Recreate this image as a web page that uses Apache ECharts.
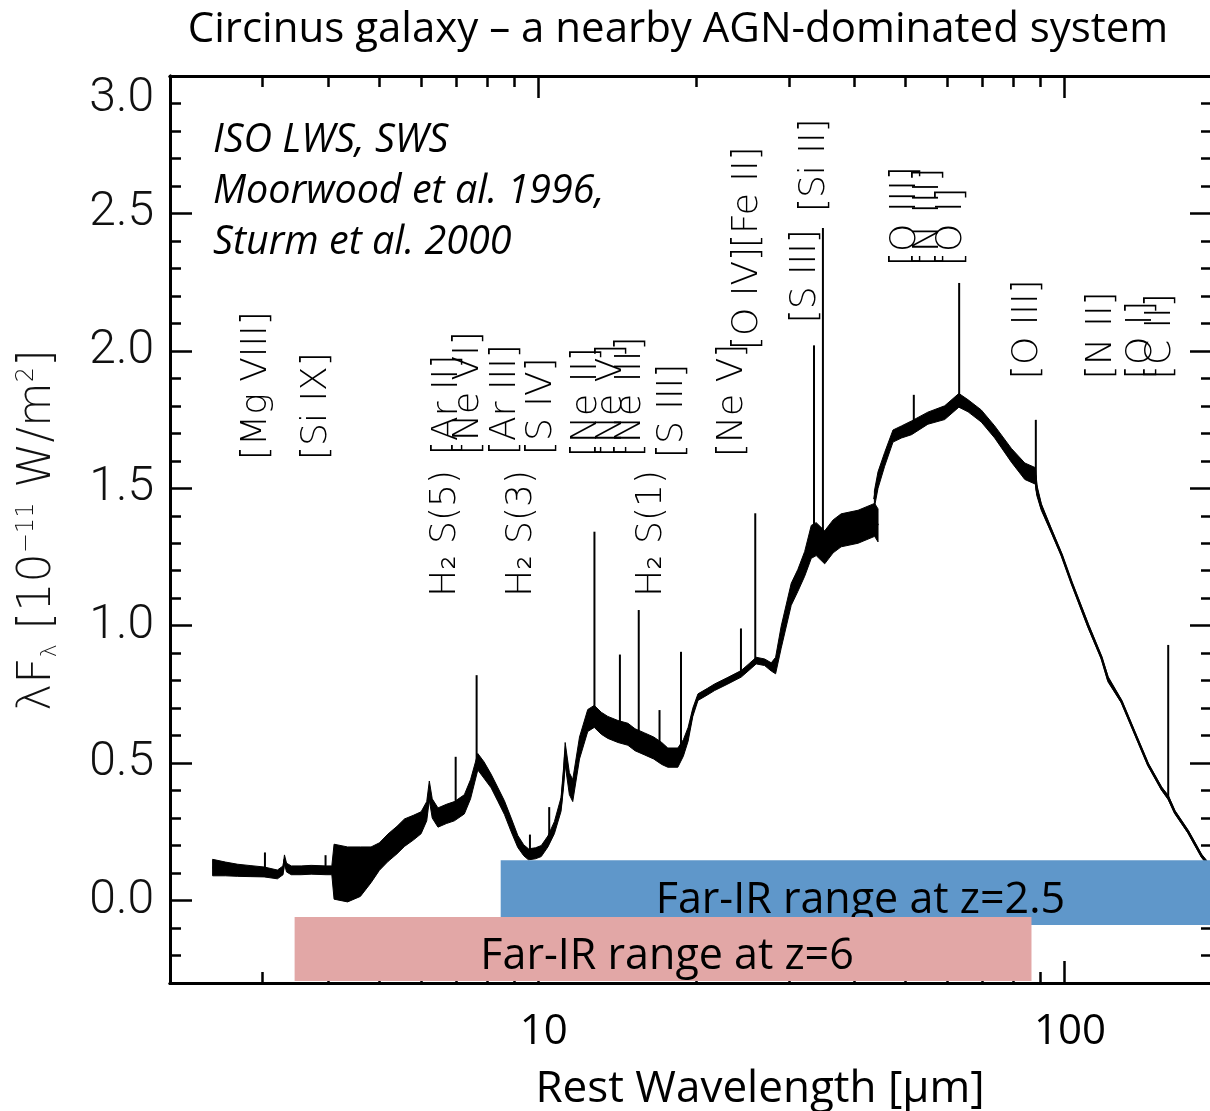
<!DOCTYPE html>
<html>
<head>
<meta charset="utf-8">
<script src="https://cdn.jsdelivr.net/npm/echarts@6/dist/echarts.min.js"></script>
<style>
  html, body { margin: 0; padding: 0; background: #fff; }
  #chart { width: 1210px; height: 1111px; }
</style>
</head>
<body>
<div id="chart"></div>
<script>
// ISO SWS spectrum (continuum trace, micron / 1e-11 W m^-2) and the width of its noise band
const swsWave = [2.41, 2.55, 2.69, 2.85, 3.02, 3.2, 3.28, 3.3, 3.33, 3.4,
  3.55, 3.71, 3.96, 4.06, 4.1, 4.35, 4.6, 4.82, 5.0, 5.19,
  5.4, 5.58, 5.8, 6.0, 6.15, 6.22, 6.3, 6.46, 6.7, 6.94,
  7.25, 7.45, 7.69, 7.9, 8.15, 8.4, 8.64, 8.9, 9.16, 9.4,
  9.6, 9.9, 10.15, 10.45, 10.75, 11.07, 11.2, 11.27, 11.48, 11.65,
  12.0, 12.44, 12.8, 13.2, 13.58, 14.2, 14.83, 15.3, 15.95, 16.6,
  17.2, 17.66, 18.45, 18.9, 19.3, 19.7, 20.15, 21.0, 21.67, 22.97,
  24.35, 25.2, 26.0, 26.97, 27.77, 28.3, 29.0, 30.3, 31.2, 32.14,
  33.08, 33.8, 35.08, 36.4, 37.7, 40.6, 43.65, 44.3];
const swsFlux = [0.12, 0.115, 0.11, 0.107, 0.104, 0.095, 0.11, 0.15, 0.12, 0.11,
  0.11, 0.112, 0.11, 0.11, 0.105, 0.095, 0.105, 0.13, 0.16, 0.192,
  0.22, 0.247, 0.265, 0.283, 0.325, 0.40, 0.335, 0.302, 0.315, 0.325,
  0.35, 0.405, 0.505, 0.475, 0.435, 0.385, 0.338, 0.275, 0.215, 0.183,
  0.168, 0.172, 0.18, 0.215, 0.265, 0.35, 0.455, 0.535, 0.425, 0.40,
  0.555, 0.655, 0.67, 0.645, 0.63, 0.615, 0.605, 0.585, 0.57, 0.555,
  0.535, 0.52, 0.52, 0.555, 0.605, 0.685, 0.74, 0.76, 0.776, 0.80,
  0.825, 0.85, 0.873, 0.867, 0.85, 0.855, 0.958, 1.114, 1.165, 1.225,
  1.305, 1.315, 1.285, 1.325, 1.347, 1.36, 1.385, 1.365];
const swsSpread = [0.03, 0.025, 0.022, 0.02, 0.018, 0.016, 0.016, 0.016, 0.016, 0.016,
  0.016, 0.016, 0.016, 0.016, 0.10, 0.10, 0.09, 0.065, 0.05, 0.05,
  0.05, 0.05, 0.045, 0.04, 0.035, 0.035, 0.035, 0.035, 0.035, 0.035,
  0.035, 0.035, 0.03, 0.03, 0.025, 0.025, 0.025, 0.025, 0.022, 0.02,
  0.02, 0.02, 0.02, 0.02, 0.022, 0.025, 0.035, 0.04, 0.04, 0.04,
  0.04, 0.04, 0.04, 0.04, 0.04, 0.04, 0.04, 0.04, 0.04, 0.04,
  0.04, 0.035, 0.035, 0.03, 0.025, 0.015, 0.012, 0.012, 0.012, 0.012,
  0.012, 0.012, 0.012, 0.012, 0.015, 0.03, 0.04, 0.04, 0.04, 0.045,
  0.06, 0.06, 0.06, 0.06, 0.06, 0.06, 0.06, 0.06];

// ISO LWS spectrum
const lwsWave = [43.6, 44.3, 45.6, 47.3, 49.1, 51.3, 55.1, 59.3, 63.1, 65.7,
  69.6, 73.8, 79.4, 84.2, 88.2, 88.7, 90.5, 94.6, 98.9, 103.3,
  111.1, 117.8, 121.2, 128.5, 136.2, 144.4, 153.1, 157.7, 162.3, 172.1,
  182.4, 186.5];
const lwsFlux = [1.46, 1.53, 1.605, 1.69, 1.705, 1.72, 1.755, 1.775, 1.82, 1.80,
  1.763, 1.705, 1.62, 1.562, 1.545, 1.495, 1.432, 1.345, 1.258, 1.157,
  1.0, 0.883, 0.805, 0.725, 0.61, 0.495, 0.408, 0.375, 0.322, 0.25,
  0.163, 0.14];
const lwsSpread = [0.03, 0.03, 0.025, 0.022, 0.022, 0.025, 0.022, 0.025, 0.025, 0.022,
  0.022, 0.022, 0.025, 0.03, 0.03, 0.02, 0.012, 0.008, 0.006, 0.006,
  0.008, 0.006, 0.01, 0.006, 0.006, 0.006, 0.006, 0.008, 0.006, 0.006,
  0.006, 0.006];

// Emission lines: rest wavelength, continuum level below the line, line peak
const lineWave = [3.03, 3.95, 6.98, 7.65, 9.66, 10.51, 12.81, 14.32, 15.55, 17.03,
  18.71, 24.32, 25.89, 33.48, 34.81, 51.81, 63.18, 88.36, 157.7];
const lineBase = [0.10, 0.11, 0.325, 0.505, 0.17, 0.225, 0.67, 0.615, 0.585, 0.535,
  0.525, 0.825, 0.87, 1.305, 1.285, 1.725, 1.82, 1.525, 0.375];
const linePeak = [0.175, 0.165, 0.523, 0.82, 0.24, 0.34, 1.342, 0.895, 1.057, 0.693,
  0.905, 0.99, 1.409, 2.02, 2.447, 1.84, 2.247, 1.749, 0.93];

// Line identifications: text, wavelength, flux level where the label starts
const labelText = ['[Mg VIII]', '[Si IX]', 'H\u2082 S(5)', '[Ar II]', '[Ne VI]', 'H\u2082 S(3)', '[Ar III]', '[S IV]',
  '[Ne II]', '[Ne V]', '[Ne III]', 'H\u2082 S(1)', '[S III]', '[Ne V]', '[O IV]', '[Fe II]',
  '[S III]', '[Si II]', '[O III]', '[N III]', '[O I]', '[O III]', '[N II]', '[O I]', '[C II]'];
const labelWave = [3.03, 3.94, 6.91, 6.985, 7.65, 9.66, 8.99, 10.51,
  12.81, 14.32, 15.55, 17.03, 18.71, 24.32, 25.89, 25.99,
  33.48, 34.81, 51.81, 57.32, 63.18, 88.36, 121.9, 145.5, 157.7];
const labelLevel = [1.603, 1.603, 1.105, 1.621, 1.621, 1.105, 1.621, 1.621,
  1.614, 1.614, 1.614, 1.105, 1.61, 1.614, 2.003, 2.374,
  2.10, 2.505, 2.309, 2.309, 2.309, 1.897, 1.897, 1.897, 1.897];

// Rest-frame wavelength windows covered by far-IR observations at two redshifts
const bandText = ['Far-IR range at z=2.5', 'Far-IR range at z=6'];
const bandStart = [8.5, 3.45];
const bandEnd = [191, 86.7];
const bandTop = [0.147, -0.06];
const bandBottom = [-0.089, -0.293];

// Axis ticks
const xMajor = [10, 100];
const xMinor = [2, 3, 4, 5, 6, 7, 8, 9, 20, 30, 40, 50, 60, 70, 80, 90];
const yMajor = [0, 0.5, 1.0, 1.5, 2.0, 2.5, 3.0];
const yMinor = [-0.3, -0.2, -0.1, 0.1, 0.2, 0.3, 0.4, 0.6, 0.7, 0.8, 0.9, 1.1, 1.2, 1.3, 1.4,
  1.6, 1.7, 1.8, 1.9, 2.1, 2.2, 2.3, 2.4, 2.6, 2.7, 2.8, 2.9];

const X_MIN = 2, X_MAX = 191, Y_MIN = -0.3, Y_MAX = 3.0;
const AX = { color: '#000', width: 3 };
const TK = { color: '#000', width: 2.5 };

function xAxisDef(position, values, len, withLabels) {
  return {
    type: 'log', logBase: 10, min: X_MIN, max: X_MAX, position: position,
    axisLine: { show: withLabels !== null, onZero: false, lineStyle: AX },
    axisTick: { show: true, inside: true, length: len, customValues: values, lineStyle: TK },
    axisLabel: withLabels ? {
      show: true, customValues: xMajor, margin: 28, padding: [0, 0, 0, 12],
      fontFamily: 'Open Sans', fontSize: 42, color: '#000',
      formatter: v => String(Math.round(v))
    } : { show: false },
    splitLine: { show: false }, minorTick: { show: false }
  };
}
function yAxisDef(position, values, len, withLabels) {
  return {
    type: 'value', min: Y_MIN, max: Y_MAX, position: position,
    axisLine: { show: withLabels !== null, onZero: false, lineStyle: AX },
    axisTick: { show: true, inside: true, length: len, customValues: values, lineStyle: TK },
    axisLabel: withLabels ? {
      show: true, customValues: yMajor, margin: 16,
      fontFamily: 'Roboto', fontWeight: 300, fontSize: 48, color: '#111',
      formatter: v => Math.abs(v - 3) < 1e-6 ? '{t|3.0}' : v.toFixed(1),
      rich: { t: { fontFamily: 'Roboto', fontWeight: 300, fontSize: 48, color: '#111', padding: [46, 0, 0, 0] } }
    } : { show: false },
    splitLine: { show: false }
  };
}

function envelope(wave, flux, spread) {
  return function (params, api) {
    const pts = [];
    for (let i = 0; i < wave.length; i++) pts.push(api.coord([wave[i], flux[i] + spread[i]]));
    for (let i = wave.length - 1; i >= 0; i--) pts.push(api.coord([wave[i], flux[i] - spread[i]]));
    return { type: 'polygon', shape: { points: pts }, style: { fill: '#000', stroke: '#000', lineWidth: 1 } };
  };
}

const chart = echarts.init(document.getElementById('chart'), null, { renderer: 'canvas' });
chart.setOption({
  animation: false,
  backgroundColor: '#fff',
  grid: { left: 170, top: 76, right: -2, bottom: 128, containLabel: false, outerBoundsMode: 'none' },
  xAxis: [
    Object.assign(xAxisDef('bottom', xMajor, 22, true), {
      name: 'Rest Wavelength [\u03bcm]', nameLocation: 'middle', nameGap: 84,
      nameTextStyle: { fontFamily: 'Open Sans', fontSize: 44, color: '#000', padding: [0, 0, 0, 138] }
    }),
    xAxisDef('bottom', xMinor, 11, false),
    xAxisDef('top', xMajor, 22, false),
    xAxisDef('top', xMinor, 11, false)
  ],
  yAxis: [
    yAxisDef('left', yMajor, 22, true),
    yAxisDef('left', yMinor, 11, false),
    yAxisDef('right', yMajor, 22, false),
    yAxisDef('right', yMinor, 11, false)
  ],
  graphic: [
    { type: 'text', x: 678, y: 30, style: { text: 'Circinus galaxy \u2013 a nearby AGN-dominated system', fontFamily: 'Open Sans', fontSize: 42, fill: '#000', align: 'center', verticalAlign: 'middle' } },
    { type: 'text', x: 213, y: 141, style: { text: 'ISO LWS, SWS', fontFamily: 'Open Sans', fontStyle: 'italic', fontSize: 39.5, fill: '#000', align: 'left', verticalAlign: 'middle' } },
    { type: 'text', x: 213, y: 192, style: { text: 'Moorwood et al. 1996,', fontFamily: 'Open Sans', fontStyle: 'italic', fontSize: 39.5, fill: '#000', align: 'left', verticalAlign: 'middle' } },
    { type: 'text', x: 213, y: 243, style: { text: 'Sturm et al. 2000', fontFamily: 'Open Sans', fontStyle: 'italic', fontSize: 39.5, fill: '#000', align: 'left', verticalAlign: 'middle' } },
    { type: 'text', x: 38, y: 530, rotation: Math.PI / 2, style: {
        text: '\u03bbF{s|\u03bb} [10{p|\u221211} W/m{p|2}]', align: 'center', verticalAlign: 'middle',
        fontFamily: 'DejaVu Sans', fontWeight: 200, fontSize: 46, fill: '#111',
        rich: {
          s: { fontFamily: 'DejaVu Sans', fontWeight: 200, fontSize: 22, fill: '#111', verticalAlign: 'bottom' },
          p: { fontFamily: 'DejaVu Sans', fontWeight: 200, fontSize: 24, fill: '#111', verticalAlign: 'top' }
        } } }
  ],
  series: [
    { type: 'custom', name: 'SWS noise', z: 2, silent: true, data: [[swsWave[0], swsFlux[0]]],
      renderItem: envelope(swsWave, swsFlux, swsSpread) },
    { type: 'custom', name: 'LWS noise', z: 2, silent: true, data: [[lwsWave[0], lwsFlux[0]]],
      renderItem: envelope(lwsWave, lwsFlux, lwsSpread) },
    { type: 'line', name: 'SWS', z: 3, showSymbol: false, silent: true,
      data: swsWave.map((w, i) => [w, swsFlux[i]]), lineStyle: { color: '#000', width: 2 } },
    { type: 'line', name: 'LWS', z: 3, showSymbol: false, silent: true,
      data: lwsWave.map((w, i) => [w, lwsFlux[i]]), lineStyle: { color: '#000', width: 2.5 } },
    { type: 'custom', name: 'lines', z: 3, silent: true,
      data: lineWave.map((w, i) => [w, lineBase[i], linePeak[i]]),
      encode: { x: 0, y: [1, 2] },
      renderItem: function (params, api) {
        const a = api.coord([api.value(0), api.value(1)]);
        const b = api.coord([api.value(0), api.value(2)]);
        return { type: 'line', shape: { x1: a[0], y1: a[1], x2: b[0], y2: b[1] }, style: { stroke: '#000', lineWidth: 2 } };
      } },
    { type: 'custom', name: 'ids', z: 4, silent: true,
      data: labelWave.map((w, i) => [w, labelLevel[i]]),
      renderItem: function (params, api) {
        const p = api.coord([api.value(0), api.value(1)]);
        return { type: 'text', x: p[0] - 8, y: p[1], rotation: Math.PI / 2,
          style: { text: labelText[params.dataIndex], fontFamily: 'DejaVu Sans', fontWeight: 200, fontSize: 36,
            fill: '#000', align: 'left', verticalAlign: 'middle' } };
      } },
    { type: 'custom', name: 'bands', z: 6, silent: true,
      data: bandStart.map((s, i) => [s, bandEnd[i], bandTop[i], bandBottom[i]]),
      encode: { x: [0, 1], y: [2, 3] },
      renderItem: function (params, api) {
        const i = params.dataIndex;
        const a = api.coord([api.value(0), api.value(2)]);
        const b = api.coord([api.value(1), api.value(3)]);
        const fill = i === 0 ? '#5f97ca' : '#e2a7a6';
        return { type: 'group', children: [
          { type: 'rect', shape: { x: a[0], y: a[1], width: b[0] - a[0], height: b[1] - a[1] }, style: { fill: fill } },
          { type: 'text', x: (a[0] + Math.min(b[0], 1212)) / 2 + 4, y: (a[1] + b[1]) / 2 + 8,
            style: { text: bandText[i], fontFamily: 'Open Sans', fontSize: 43, fill: '#000', align: 'center', verticalAlign: 'middle' } }
        ] };
      } }
  ]
});
</script>
</body>
</html>
